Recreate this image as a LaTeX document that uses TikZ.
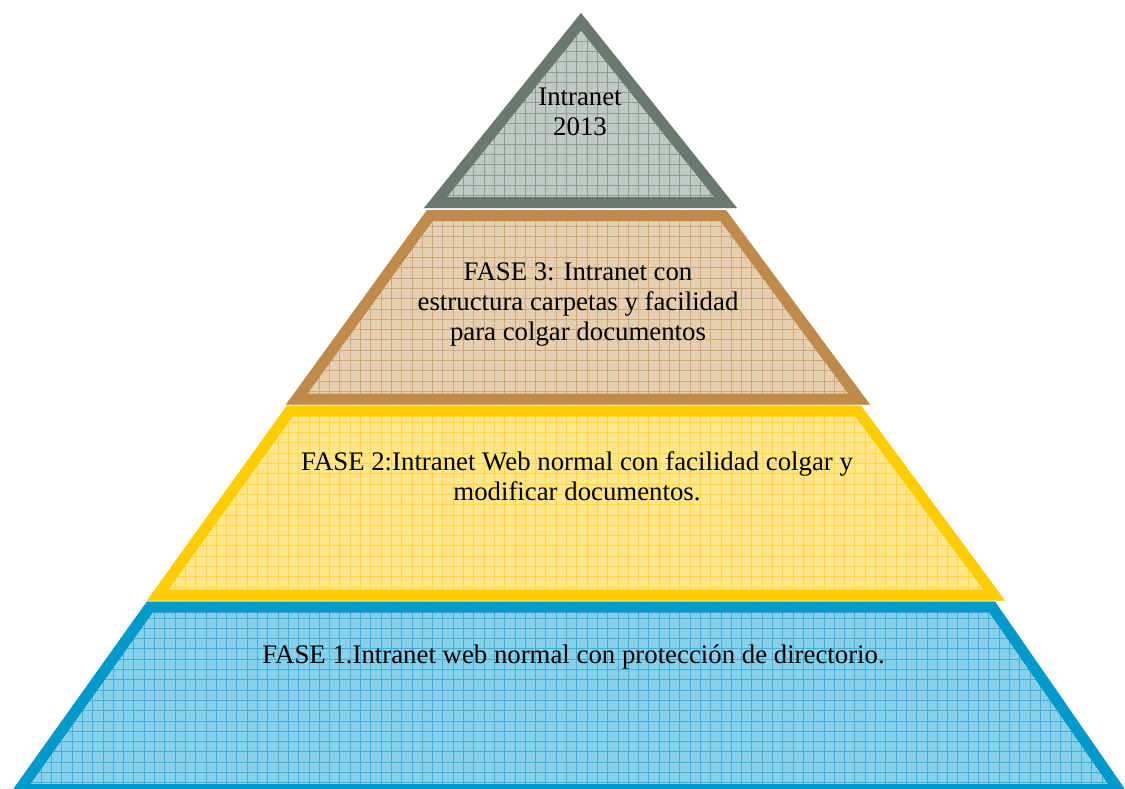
\documentclass[tikz,border=0pt]{standalone}
\usepackage{fontspec}
\setmainfont{Liberation Serif}
\definecolor{grayS}{RGB}{107,120,110}
\definecolor{grayF}{RGB}{192,201,196}
\definecolor{brownS}{RGB}{192,139,74}
\definecolor{brownF}{RGB}{230,206,176}
\definecolor{yellowS}{RGB}{255,204,0}
\definecolor{yellowF}{RGB}{255,229,140}
\definecolor{blueS}{RGB}{0,153,204}
\definecolor{blueF}{RGB}{138,207,232}
\tikzset{
  lbl/.style={font=\fontsize{26.8}{30}\selectfont, align=center, anchor=base, inner sep=0pt},
}
\newcommand{\layer}[3]{%
  \begin{scope}
    \clip #1;
    \fill[#3] #1;
    \draw[#2, opacity=0.55, line width=1] (0,0) grid[step=10.3pt] (1130,800);
    \draw[#2, line width=22, line join=miter] #1;
  \end{scope}}
\begin{document}
\begin{tikzpicture}[x=1pt,y=-1pt]
\useasboundingbox (0,0) rectangle (1125,789);
% layers (outer outlines)
\layer{(147,601.5) -- (995,601.5) -- (1129,795) -- (9,795) -- cycle}{blueS}{blueF}
\layer{(287,405.5) -- (861,405.5) -- (1005,600.5) -- (147,600.5) -- cycle}{yellowS}{yellowF}
\layer{(427,210) -- (726,210) -- (870,404.5) -- (286,404.5) -- cycle}{brownS}{brownF}
\layer{(581,13) -- (737,208) -- (424,208) -- cycle}{grayS}{grayF}
% labels (anchor base = baseline of the last line)
\node[lbl] (t4) at (580,136) {Intranet\\2013};
\node[lbl] (t3) at (578,340) {FASE 3: Intranet con\\estructura carpetas y facilidad\\para colgar documentos};
\node[lbl] (t2) at (577,500) {FASE 2:Intranet Web normal con facilidad colgar y\\modificar documentos.};
\node[lbl] (t1) at (573.5,663) {FASE 1.Intranet web normal con protección de directorio.};
\end{tikzpicture}
\end{document}
